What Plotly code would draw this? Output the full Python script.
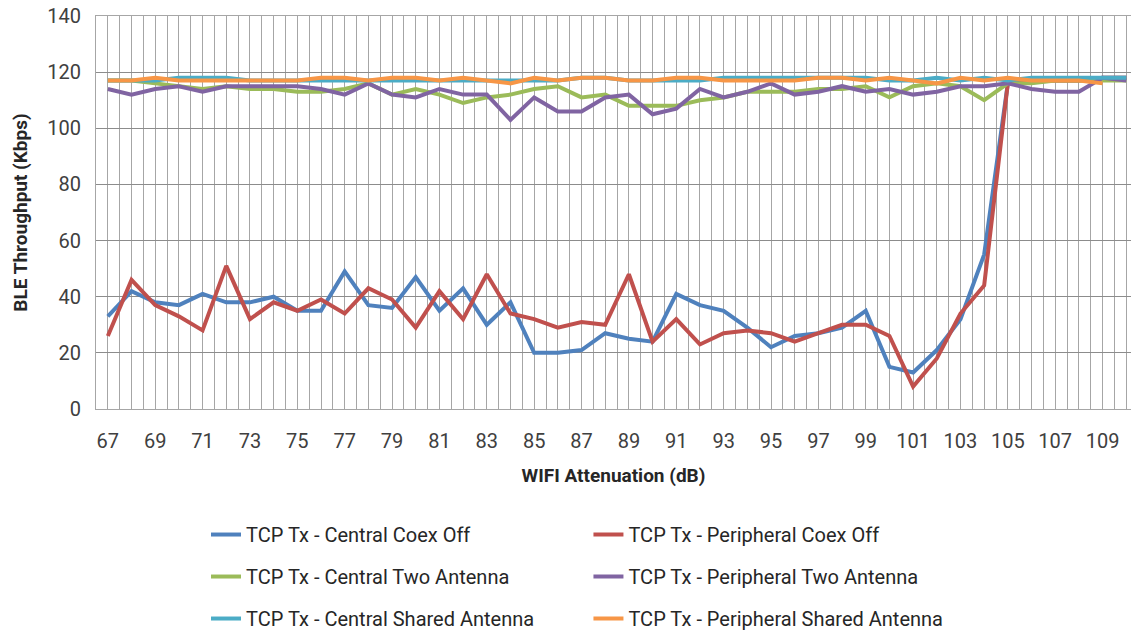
"""
BLE throughput vs WIFI attenuation, six TCP Tx configurations.
"""
import numpy as np
import plotly.graph_objects as go

attenuation = list(range(67, 111))

central_coex_off = [33, 42, 38, 37, 41, 38, 38, 40, 35, 35, 49, 37, 36, 47, 35, 43, 30, 38, 20, 20, 21, 27,
                    25, 24, 41, 37, 35, 29, 22, 26, 27, 29, 35, 15, 13, 21, 32, 55, 116, 117, 117, 117, 118, 118]
peripheral_coex_off = [26, 46, 37, 33, 28, 51, 32, 38, 35, 39, 34, 43, 39, 29, 42, 32, 48, 34, 32, 29, 31, 30,
                       48, 24, 32, 23, 27, 28, 27, 24, 27, 30, 30, 26, 8, 18, 34, 44, 116, 117, 117, 117, 118, 118]
central_two_ant = [117, 117, 116, 115, 114, 115, 114, 114, 113, 113, 114, 116, 112, 114, 112, 109, 111, 112, 114, 115,
                   111, 112, 108, 108, 108, 110, 111, 113, 113, 113, 114, 114, 115, 111, 115, 116, 115, 110, 116, 116,
                   117, 117, 117, 117]
peripheral_two_ant = [114, 112, 114, 115, 113, 115, 115, 115, 115, 114, 112, 116, 112, 111, 114, 112, 112, 103, 111,
                      106, 106, 111, 112, 105, 107, 114, 111, 113, 116, 112, 113, 115, 113, 114, 112, 113, 115, 115,
                      116, 114, 113, 113, 118, 117]
central_shared_ant = [117, 117, 117, 118, 118, 118, 117, 117, 117, 117, 117, 117, 117, 117, 117, 117, 117, 117, 117,
                      117, 118, 118, 117, 117, 117, 117, 118, 118, 118, 118, 118, 118, 118, 117, 117, 118, 117, 118,
                      117, 118, 118, 118, 118, 118]
peripheral_shared_ant = [117, 117, 118, 117, 117, 117, 117, 117, 117, 118, 118, 117, 118, 118, 117, 118, 117, 116, 118,
                         117, 118, 118, 117, 117, 118, 118, 117, 117, 117, 117, 118, 118, 117, 118, 117, 116, 118, 117,
                         118, 117, 117, 117, 116, None]

x_tick_labels = [str(v) for v in range(67, 110, 2)]

series = [
    ("TCP Tx - Central Coex Off", central_coex_off, "#4F81BD", "legend"),
    ("TCP Tx - Peripheral Coex Off", peripheral_coex_off, "#C0504D", "legend2"),
    ("TCP Tx - Central Two Antenna", central_two_ant, "#9BBB59", "legend"),
    ("TCP Tx - Peripheral Two Antenna", peripheral_two_ant, "#8064A2", "legend2"),
    ("TCP Tx - Central Shared Antenna", central_shared_ant, "#4BACC6", "legend"),
    ("TCP Tx - Peripheral Shared Antenna", peripheral_shared_ant, "#F79646", "legend2"),
]

font_family = "Roboto, Open Sans, sans-serif"

fig = go.Figure()
for name, values, color, leg in series:
    fig.add_trace(go.Scatter(
        x=attenuation,
        y=values,
        name=name,
        mode="lines",
        line=dict(color=color, width=4),
        legend=leg,
        legendgroup=name,
    ))

# vertical grid every half step, labels only on the odd values
grid_pos = np.arange(66.5, 110.6, 0.5)
tick_text = [str(int(v)) if float(v).is_integer() and str(int(v)) in x_tick_labels else "" for v in grid_pos]

legend_style = dict(y=0.1825, yanchor="top", yref="container", traceorder="grouped", tracegroupgap=13,
                    font=dict(size=20, color="#262626"), bgcolor="rgba(0,0,0,0)")

fig.update_layout(
    width=1131,
    height=630,
    margin=dict(l=96, r=0, t=16, b=221),
    paper_bgcolor="white",
    plot_bgcolor="white",
    font=dict(family=font_family, color="#404040", size=20),
    showlegend=True,
    legend=dict(x=0.1063, xanchor="left", **legend_style),
    legend2=dict(x=0.4758, xanchor="left", **legend_style),
    xaxis=dict(
        range=[66.5, 110.2],
        tickmode="array",
        tickvals=grid_pos,
        ticktext=tick_text,
        showgrid=True,
        gridcolor="#A6A6A6",
        gridwidth=1,
        ticks="",
        showline=True,
        linecolor="#A6A6A6",
        mirror=True,
        zeroline=False,
        automargin=False,
        ticklabelstandoff=14,
        tickfont=dict(size=20, color="#404040"),
        title=dict(text="<b>WIFI Attenuation (dB)</b>", font=dict(size=19, color="#262626"), standoff=16),
    ),
    yaxis=dict(
        range=[0, 140],
        dtick=20,
        showgrid=True,
        gridcolor="#8C8C8C",
        gridwidth=1,
        ticks="",
        showline=True,
        linecolor="#A6A6A6",
        mirror=True,
        zeroline=False,
        automargin=False,
        ticklabelstandoff=10,
        tickfont=dict(size=20, color="#404040"),
        title=dict(text="<b>BLE Throughput (Kbps)</b>", font=dict(size=19, color="#262626"), standoff=14),
    ),
)

# drop the default 8px page margin so the figure fills the window exactly
fig.write_html("out.html", config={"displayModeBar": False},
               post_script="document.body.style.margin = '0';")
